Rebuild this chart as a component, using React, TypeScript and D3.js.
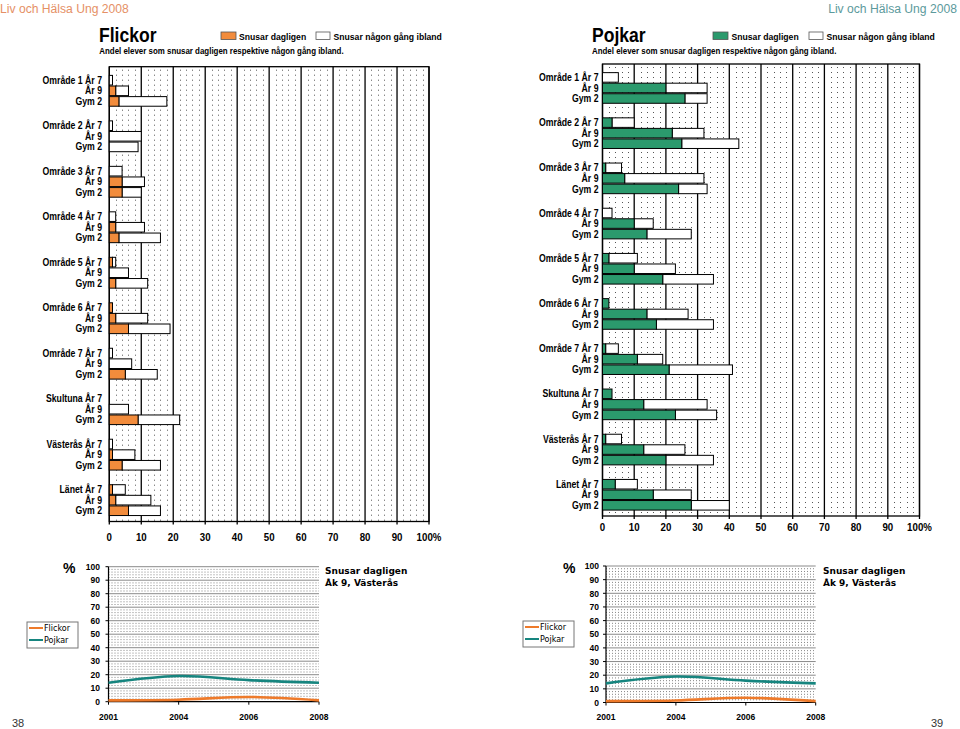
import React from "react";
import * as d3 from "d3";

// ---------- data ----------
const areas = ["Område 1", "Område 2", "Område 3", "Område 4", "Område 5", "Område 6", "Område 7", "Skultuna", "Västerås", "Länet"];
const grades = ["År 7", "År 9", "Gym 2"];

// percent snusar dagligen / snusar någon gång ibland, per area: [År 7, År 9, Gym 2]
const girlsDaily = [[0, 2, 3], [0, 0, 0], [0, 4, 4], [0, 2, 3], [1, 0, 2], [1, 2, 6], [0, 0, 5], [0, 0, 9], [0, 1, 4], [1, 2, 6]];
const girlsSometimes = [[1, 4, 15], [1, 10, 9], [4, 7, 6], [2, 9, 13], [1, 6, 10], [0, 10, 13], [1, 7, 10], [0, 6, 13], [1, 7, 12], [4, 11, 10]];
const boysDaily = [[0, 20, 26], [3, 22, 25], [1, 7, 24], [0, 10, 14], [2, 10, 19], [2, 14, 17], [1, 11, 21], [3, 13, 23], [1, 13, 20], [4, 16, 28]];
const boysSometimes = [[5, 13, 7], [7, 10, 18], [5, 25, 9], [3, 6, 14], [9, 13, 16], [0, 13, 18], [4, 8, 20], [0, 20, 13], [5, 13, 15], [7, 12, 12]];

const xTicks = [0, 10, 20, 30, 40, 50, 60, 70, 80, 90, 100];

const years = ["2001", "2004", "2006", "2008"];
const trendFlickor = [1, 1.5, 3.5, 1];
const trendPojkar = [14, 19, 16, 14];
const yTicks = [0, 10, 20, 30, 40, 50, 60, 70, 80, 90, 100];

// ---------- styling ----------
const ORANGE = "#f28c3c";
const GREEN = "#2b9a6d";
const LINE_ORANGE = "#ee7a2a";
const LINE_TEAL = "#16857f";
const ARIAL = "'Liberation Sans', Arial, sans-serif";
const VERD = "'DejaVu Sans', Verdana, sans-serif";

type TP = {
  x: number; y: number; size: number; bold?: boolean; anchor?: string; fill?: string;
  family?: string; sx?: number; children: React.ReactNode;
};
function T({ x, y, size, bold, anchor, fill, family, sx = 0.9, children }: TP) {
  return (
    <text
      transform={`translate(${x},${y}) scale(${sx},1)`}
      fontSize={size}
      fontWeight={bold ? "bold" : "normal"}
      textAnchor={anchor || "start"}
      fill={fill || "#000"}
      fontFamily={family || ARIAL}
    >
      {children}
    </text>
  );
}

const px = (v: number) => Math.round(v) + 0.5;

type BP = {
  x0: number; x100: number; top: number; bottom: number; labelEnd: number; axisY: number;
  color: string; daily: number[][]; sometimes: number[][];
};
function BarPanel({ x0, x100, top, bottom, labelEnd, axisY, color, daily, sometimes }: BP) {
  const x = d3.scaleLinear().domain([0, 100]).range([x0, x100]);
  const yG = d3.scaleBand<string>().domain(areas).range([top, bottom]).paddingInner(0.3).paddingOuter(0.15).align(0.6);
  const yB = d3.scaleBand<string>().domain(grades).range([0, yG.bandwidth()]);
  const minor = d3.range(2, 100, 2).filter((v) => v % 10 !== 0);
  return (
    <g>
      <rect x={x0} y={top} width={x100 - x0} height={bottom - top} fill="#fff" />
      {minor.map((v) => (
        <line key={"m" + v} x1={px(x(v))} x2={px(x(v))} y1={top + 3} y2={bottom} stroke="#555" strokeWidth={1} strokeDasharray="1 4" />
      ))}
      {xTicks.map((v) => (
        <line key={"M" + v} x1={x(v)} x2={x(v)} y1={top} y2={bottom + 3} stroke="#000" strokeWidth={1.3} />
      ))}
      <rect x={x0} y={top} width={x100 - x0} height={bottom - top} fill="none" stroke="#000" strokeWidth={1.3} />
      {areas.map((a, i) =>
        grades.map((g, j) => {
          const y = (yG(a) as number) + (yB(g) as number);
          const h = yB.bandwidth();
          const d = daily[i][j];
          const s = sometimes[i][j];
          return (
            <g key={a + g}>
              {s > 0 && (
                <rect x={x(d)} y={y + 0.5} width={x(d + s) - x(d)} height={h - 1} fill="#fff" stroke="#000" strokeWidth={1} />
              )}
              {d > 0 && (
                <rect x={x(0)} y={y + 0.5} width={x(d) - x(0)} height={h - 1} fill={color} stroke="#000" strokeWidth={1} />
              )}
              <T x={labelEnd} y={y + h / 2 + 3.6} size={10} bold anchor="end" sx={0.87}>
                {j === 0 ? `${a} ${g}` : g}
              </T>
            </g>
          );
        })
      )}
      {xTicks.map((v) => (
        <T key={"t" + v} x={x(v)} y={axisY} size={10} bold anchor="middle" sx={0.97}>
          {v === 100 ? "100%" : String(v)}
        </T>
      ))}
    </g>
  );
}

type LP = {
  x0: number; x1: number; y0: number; y100: number; labelEnd: number; yearY: number;
  legX: number; legY: number; titleX: number; pctX: number;
};
function LinePanel({ x0, x1, y0, y100, labelEnd, yearY, legX, legY, titleX, pctX }: LP) {
  const xs = d3.scalePoint<string>().domain(years).range([x0, x1]);
  const ys = d3.scaleLinear().domain([0, 100]).range([y0, y100]);
  const line = d3
    .line<number>()
    .x((_, i) => xs(years[i]) as number)
    .y((v) => ys(v))
    .curve(d3.curveCatmullRom.alpha(0.5));
  const minorY = d3.range(2, 100, 2).filter((v) => v % 10 !== 0);
  return (
    <g>
      {minorY.map((v) => (
        <line key={"hy" + v} x1={x0} x2={x1} y1={ys(v)} y2={ys(v)} stroke="#777" strokeWidth={0.9} strokeDasharray="1 2" />
      ))}
      {yTicks.filter((v) => v > 0).map((v) => (
        <line key={"My" + v} x1={x0} x2={x1} y1={ys(v)} y2={ys(v)} stroke="#8a8a8a" strokeWidth={1} />
      ))}
      <line x1={x0} x2={x0} y1={y100} y2={y0} stroke="#000" strokeWidth={1.2} />
      <line x1={x0} x2={x1} y1={y0} y2={y0} stroke="#000" strokeWidth={1.2} />
      {yTicks.map((v) => (
        <line key={"ty" + v} x1={x0 - 3} x2={x0} y1={ys(v)} y2={ys(v)} stroke="#000" strokeWidth={1} />
      ))}
      {years.map((yr) => (
        <line key={"tx" + yr} x1={xs(yr) as number} x2={xs(yr) as number} y1={y0} y2={y0 + 3} stroke="#000" strokeWidth={1} />
      ))}
      <path d={line(trendPojkar) || ""} fill="none" stroke={LINE_TEAL} strokeWidth={2.6} />
      <path d={line(trendFlickor) || ""} fill="none" stroke={LINE_ORANGE} strokeWidth={2.6} />
      {yTicks.map((v) => (
        <T key={"yl" + v} x={labelEnd} y={ys(v) + 3.2} size={9} bold anchor="end" sx={0.95}>
          {String(v)}
        </T>
      ))}
      {years.map((yr) => (
        <T key={"xl" + yr} x={xs(yr) as number} y={yearY} size={9} bold anchor="middle" sx={0.95}>
          {yr}
        </T>
      ))}
      <T x={pctX} y={573} size={14} bold sx={1}>%</T>
      <T x={titleX} y={574} size={9} bold family={VERD} sx={1}>Snusar dagligen</T>
      <T x={titleX} y={586} size={9} bold family={VERD} sx={1}>Åk 9, Västerås</T>
      <rect x={legX} y={legY} width={51} height={26} fill="#fff" stroke="#777" strokeWidth={1} />
      <line x1={legX + 2} x2={legX + 16} y1={legY + 6} y2={legY + 6} stroke={LINE_ORANGE} strokeWidth={2} />
      <T x={legX + 17} y={legY + 9} size={8} family={VERD} sx={1}>Flickor</T>
      <line x1={legX + 2} x2={legX + 16} y1={legY + 18} y2={legY + 18} stroke={LINE_TEAL} strokeWidth={2} />
      <T x={legX + 17} y={legY + 21} size={8} family={VERD} sx={1}>Pojkar</T>
    </g>
  );
}

export default function App() {
  return (
    <svg width={960} height={729} style={{ position: "absolute", left: 0, top: 0, background: "#fff" }}>
      <rect x={0} y={0} width={960} height={729} fill="#fff" />
      {/* headers */}
      <T x={0} y={13} size={13.5} fill="#e59066">Liv och Hälsa Ung 2008</T>
      <T x={957} y={13} size={13.5} fill="#5c9a9c" anchor="end">Liv och Hälsa Ung 2008</T>

      <T x={99} y={41.5} size={19.5} bold>Flickor</T>
      <rect x={221} y={32} width={15} height={7.5} fill={ORANGE} stroke="#555" strokeWidth={0.8} />
      <T x={239} y={39.5} size={9.6} bold>Snusar dagligen</T>
      <rect x={316} y={32} width={14} height={7.5} fill="#fff" stroke="#555" strokeWidth={0.8} />
      <T x={333.5} y={39.5} size={9.6} bold>Snusar någon gång ibland</T>
      <T x={99.3} y={53.5} size={8.8} bold>Andel elever som  snusar dagligen respektive någon gång ibland.</T>

      <T x={592} y={41.5} size={19.5} bold>Pojkar</T>
      <rect x={713} y={32} width={15} height={7.5} fill={GREEN} stroke="#555" strokeWidth={0.8} />
      <T x={731.5} y={39.5} size={9.6} bold>Snusar dagligen</T>
      <rect x={809} y={32} width={14} height={7.5} fill="#fff" stroke="#555" strokeWidth={0.8} />
      <T x={826.5} y={39.5} size={9.6} bold>Snusar någon gång ibland</T>
      <T x={592} y={53.5} size={8.8} bold>Andel elever som  snusar dagligen respektive någon gång ibland.</T>

      <BarPanel x0={109.3} x100={429} top={66.7} bottom={521.5} labelEnd={102} axisY={541}
        color={ORANGE} daily={girlsDaily} sometimes={girlsSometimes} />
      <BarPanel x0={602.5} x100={919.5} top={64} bottom={516} labelEnd={598.5} axisY={531}
        color={GREEN} daily={boysDaily} sometimes={boysSometimes} />

      <LinePanel x0={108.5} x1={319} y0={701.7} y100={566.7} labelEnd={100} yearY={720}
        legX={27} legY={622} titleX={325} pctX={63} />
      <LinePanel x0={606} x1={815.7} y0={702.5} y100={566} labelEnd={599} yearY={720}
        legX={523} legY={621} titleX={823} pctX={563} />

      <T x={12} y={727} size={11} fill="#333" sx={1}>38</T>
      <T x={931} y={727} size={11} fill="#333" sx={1}>39</T>
    </svg>
  );
}
